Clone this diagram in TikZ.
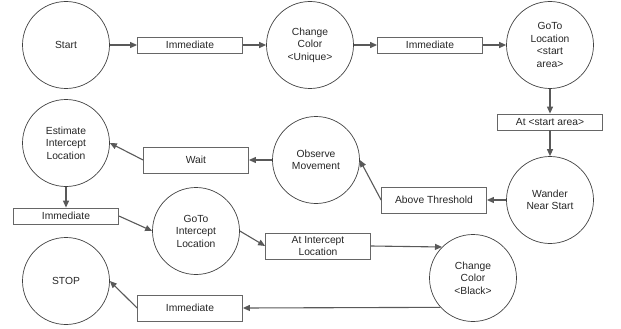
\documentclass[tikz,border=0pt]{standalone}
\usepackage{fontspec}
\setmainfont{Liberation Sans}
\usetikzlibrary{arrows.meta}
\tikzset{
    every node/.style={font=\fontsize{10.3}{12.5}\selectfont, text=black!85},
    state/.style={draw=black!75, circle, minimum size=87pt, inner sep=0pt, align=center, line width=0.7pt},
    event/.style={draw=black!60, rectangle, minimum width=105pt, minimum height=16pt, inner sep=0pt, align=center, line width=0.8pt},
    tall/.style={minimum height=26pt},
    flow/.style={-{Triangle[length=7pt,width=6pt]}, draw=black!65, line width=1.1pt}
}

\begin{document}
\begin{tikzpicture}[x=1pt, y=-1pt]
        \useasboundingbox (0,0) rectangle (621,329);

        \node[state] (start) at (66,45) {Start};
        \node[event] (imm1) at (190,45) {Immediate};
        \node[state] (unique) at (310,45) {Change\\Color\\<Unique>};
        \node[event] (imm2) at (430,45) {Immediate};
        \node[state] (gotostart) at (550,45) {GoTo\\Location\\<start\\area>};
        \node[event] (atstart) at (550,122) {At <start area>};
        \node[state] (wander) at (550,200) {Wander\\Near Start};
        \node[event, tall] (above) at (434,200) {Above Threshold};
        \node[state] (observe) at (316,160) {Observe\\Movement};
        \node[event, tall] (wait) at (196,160) {Wait};
        \node[state] (estimate) at (66,143) {Estimate\\Intercept\\Location};
        \node[event] (imm3) at (66,216) {Immediate};
        \node[state] (gotointercept) at (196,231) {GoTo\\Intercept\\Location};
        \node[event, tall] (atintercept) at (318,246) {At Intercept\\Location};
        \node[state] (black) at (473,278) {Change\\Color\\<Black>};
        \node[event, tall] (imm4) at (190,308) {Immediate};
        \node[state] (stop) at (66,281) {STOP};

        \draw[flow] (start) -- (imm1);
        \draw[flow] (imm1) -- (unique);
        \draw[flow] (unique) -- (imm2);
        \draw[flow] (imm2) -- (gotostart);
        \draw[flow] (gotostart) -- (atstart);
        \draw[flow] (atstart) -- (wander);
        \draw[flow] (wander) -- (above);
        \draw[flow] (above.west) -- (observe.east);
        \draw[flow] (observe) -- (wait);
        \draw[flow] (wait.west) -- (estimate.east);
        \draw[flow] (estimate) -- (imm3);
        \draw[flow] (imm3.east) -- (gotointercept.west);
        \draw[flow] (gotointercept.east) -- (atintercept.west);
        \draw[flow] (atintercept.east) -- (black.135);
        \draw[flow] (black.222) -- (imm4.east);
        \draw[flow] (imm4.west) -- (stop.east);
    \end{tikzpicture}
\end{document}
